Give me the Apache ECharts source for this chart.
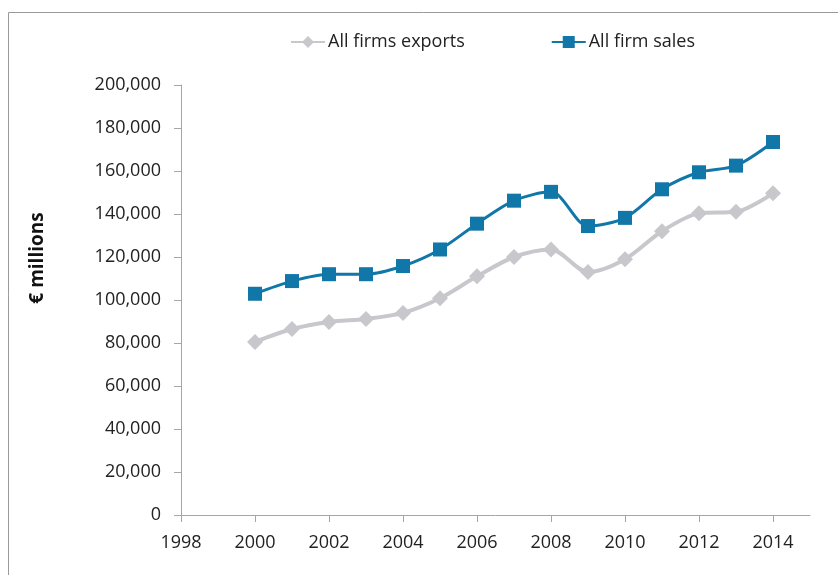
<!DOCTYPE html>
<html><head><meta charset="utf-8">
<script src="https://cdn.jsdelivr.net/npm/echarts@6/dist/echarts.min.js"></script>
<style>html,body{margin:0;padding:0;background:#fff}#c{width:838px;height:575px}</style>
</head><body><div id="c"></div>
<script>
const years = [2000,2001,2002,2003,2004,2005,2006,2007,2008,2009,2010,2011,2012,2013,2014];
const exportsVals = [80500,86500,89800,91200,94000,100800,111000,120000,123500,113000,119000,132000,140300,141000,149600];
const salesVals = [102900,108800,112000,112000,115800,123500,135500,146200,150300,134400,138200,151500,159400,162500,173500];
const xTicks = [1998,2000,2002,2004,2006,2008,2010,2012,2014];
const yTitle = '€ millions';

const font = "'Open Sans', 'Noto Sans', sans-serif";
const chart = echarts.init(document.getElementById('c'), null, {renderer:'canvas'});
chart.setOption({
  animation:false,
  backgroundColor:'#fff',
  graphic:[
    {type:'rect',shape:{x:8.5,y:12.5,width:840,height:600},style:{fill:'none',stroke:'#9a9a9a',lineWidth:1}},
    {type:'text',x:38,y:258,rotation:Math.PI/2,
     style:{text:yTitle,font:"bold 19px 'Open Sans', sans-serif",fill:'#111',align:'center',verticalAlign:'middle'}}
  ],
  legend:{
    top:33,left:290,padding:0,itemGap:86,itemWidth:34,itemHeight:15,
    textStyle:{fontFamily:font,fontSize:18,color:'#222',padding:[0,0,0,-2]},
    data:['All firms exports','All firm sales']
  },
  grid:{left:181,right:28,top:85,bottom:60},
  xAxis:{
    type:'value',min:1998,max:2015,interval:2,
    axisLine:{lineStyle:{color:'#a6a6a6'}},
    axisTick:{show:true,length:7,lineStyle:{color:'#a6a6a6'},customValues:xTicks},
    axisLabel:{fontFamily:font,fontSize:18,color:'#222',margin:19,customValues:xTicks,formatter:v=>String(v)},
    splitLine:{show:false}
  },
  yAxis:{
    type:'value',min:0,max:200000,interval:20000,
    axisLine:{show:true,lineStyle:{color:'#a6a6a6'}},
    axisTick:{show:true,length:7,lineStyle:{color:'#a6a6a6'}},
    axisLabel:{fontFamily:font,fontSize:18,color:'#222',margin:20,
      formatter:v=>v.toLocaleString('en-US')},
    splitLine:{show:false}
  },
  series:[
    {name:'All firms exports',type:'line',smooth:0.3,
     data:years.map((y,i)=>[y,exportsVals[i]]),
     symbol:'diamond',symbolSize:16,
     lineStyle:{color:'#c8c8cc',width:4},
     itemStyle:{color:'#c8c8cc'}},
    {name:'All firm sales',type:'line',smooth:0.3,
     data:years.map((y,i)=>[y,salesVals[i]]),
     symbol:'rect',symbolSize:14,
     lineStyle:{color:'#1176a8',width:3},
     itemStyle:{color:'#1176a8'}}
  ]
});
</script></body></html>
